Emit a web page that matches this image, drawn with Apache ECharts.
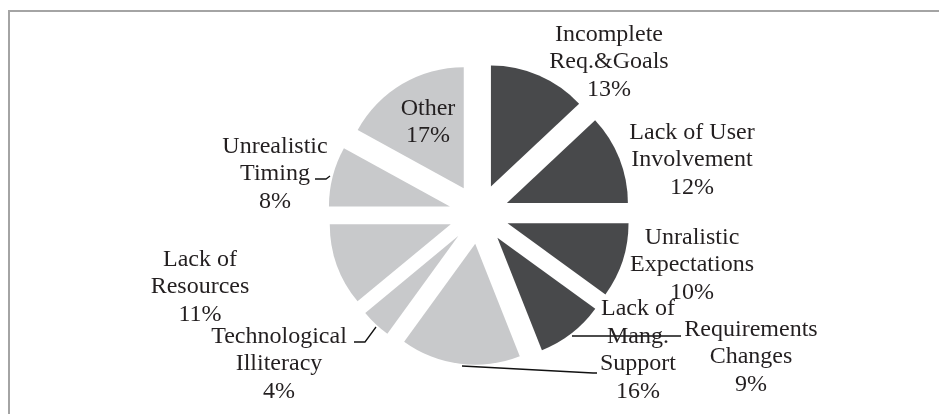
<!DOCTYPE html>
<html>
<head>
<meta charset="utf-8">
<script src="https://cdn.jsdelivr.net/npm/echarts@6/dist/echarts.min.js"></script>
<style>
  html, body { margin: 0; padding: 0; background: #fff; }
  #frame {
    position: absolute; left: 8px; top: 10px; right: 0; bottom: 0;
    border-top: 2px solid #a4a4a4; border-left: 2px solid #a4a4a4;
  }
  #chart { position: absolute; left: 0; top: 0; width: 939px; height: 414px; }
</style>
</head>
<body>
<div id="frame"></div>
<div id="chart"></div>
<script>
  // clockwise from 12 o'clock
  const causes = [
    "Incomplete\nReq.&Goals",
    "Lack of User\nInvolvement",
    "Unralistic\nExpectations",
    "Requirements\nChanges",
    "Lack of\nMang.\nSupport",
    "Technological\nIlliteracy",
    "Lack of\nResources",
    "Unrealistic\nTiming",
    "Other",
  ];
  const shares = [13, 12, 10, 9, 16, 4, 11, 8, 17];
  const shade = ["dark", "dark", "dark", "dark", "light", "light", "light", "light", "light"];

  // label layout (px): block centres, and leader paths for the few labels that have one
  const labelSpots = [
    [609, 62], [692, 160], [692, 265], [751, 357], [638, 350],
    [279, 364], [200, 287], [275, 174], [428, 122],
  ];
  const leaderPaths = {
    3: [[572, 336], [626, 336], [681, 336]],
    4: [[462, 366], [593, 373], [597, 373]],
    5: [[376, 327], [365, 342], [354, 342]],
    7: [[330, 176], [326, 179], [315, 179]],
  };

  const colors = { dark: "#48494b", light: "#c8c9cb" };
  const ink = "#231f20";
  const pieCenter = [479, 214];

  const chart = echarts.init(document.getElementById("chart"));
  chart.setOption({
    backgroundColor: "transparent",
    animation: false,
    series: [
      {
        // exploded slices
        type: "pie",
        center: pieCenter,
        radius: [0, 121],
        startAngle: 90,
        clockwise: true,
        selectedMode: "multiple",
        selectedOffset: 30,
        emphasis: { disabled: true },
        select: { itemStyle: { borderWidth: 0 } },
        itemStyle: { borderWidth: 0 },
        label: { show: false },
        labelLine: { show: false },
        data: causes.map((name, i) => ({
          name,
          value: shares[i],
          selected: true,
          itemStyle: { color: colors[shade[i]] },
        })),
      },
      {
        // label carrier, invisible
        type: "pie",
        center: pieCenter,
        radius: [0, 150],
        startAngle: 90,
        clockwise: true,
        silent: true,
        avoidLabelOverlap: false,
        emphasis: { disabled: true },
        itemStyle: { color: "rgba(0,0,0,0)", borderWidth: 0 },
        label: {
          show: true,
          position: "outside",
          color: ink,
          fontFamily: "Liberation Serif",
          fontSize: 24,
          lineHeight: 27.5,
          formatter: (p) => `${p.name}\n${p.value}%`,
        },
        labelLine: { show: false, lineStyle: { color: "#111", width: 1.3 } },
        labelLayout: (params) => {
          const spot = labelSpots[params.dataIndex];
          const out = { x: spot[0], y: spot[1], align: "center", verticalAlign: "middle" };
          const path = leaderPaths[params.dataIndex];
          if (path) out.labelLinePoints = path;
          return out;
        },
        data: causes.map((name, i) => ({
          name,
          value: shares[i],
          labelLine: { show: i in leaderPaths },
        })),
      },
    ],
  });
</script>
</body>
</html>
